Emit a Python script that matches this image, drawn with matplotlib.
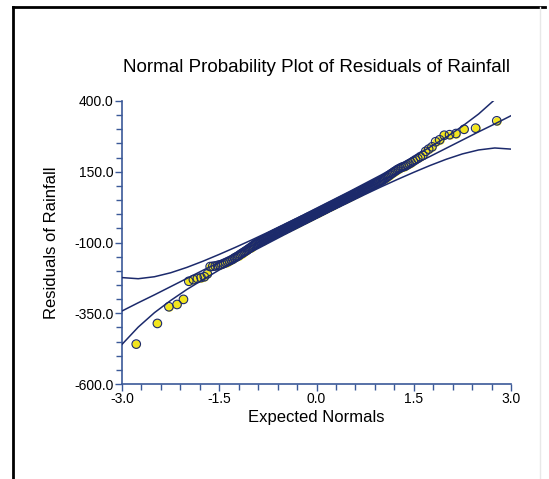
import matplotlib
matplotlib.use('Agg')
import matplotlib.pyplot as plt
from matplotlib.lines import Line2D
from matplotlib.ticker import MultipleLocator, FormatStrFormatter
from statistics import NormalDist

plt.rcParams['font.family'] = ['Liberation Sans', 'DejaVu Sans']
plt.rcParams['axes.unicode_minus'] = False

# sorted residuals of rainfall
residuals = [
    -459, -386, -327, -319, -301, -237, -231, -227, -224, -221,
    -211, -185, -184, -183, -181, -179, -177, -174, -171, -168,
    -165, -162, -159, -155, -152, -149, -146, -142, -139, -136,
    -133, -130, -127, -124, -121, -118, -115, -112, -109, -106,
    -104, -102, -100, -98, -96, -95, -93, -91, -89, -87,
    -86, -84, -82, -80, -78, -77, -75, -74, -72, -70,
    -69, -67, -66, -64, -63, -62, -60, -58, -57, -56,
    -55, -53, -52, -50, -49, -47, -46, -45, -43, -42,
    -41, -39, -38, -37, -35, -34, -33, -31, -30, -29,
    -28, -26, -25, -24, -22, -21, -20, -19, -18, -16,
    -15, -14, -12, -11, -10, -9, -8, -6, -5, -4,
    -3, -1, 0, 1, 2, 4, 5, 6, 7, 9,
    10, 11, 12, 14, 15, 16, 17, 19, 20, 21,
    23, 24, 25, 26, 28, 29, 30, 31, 33, 34,
    35, 37, 38, 39, 41, 42, 43, 45, 46, 47,
    49, 50, 51, 53, 54, 55, 57, 58, 60, 61,
    62, 64, 65, 67, 68, 70, 71, 73, 74, 76,
    77, 79, 80, 82, 84, 85, 87, 89, 90, 92,
    94, 95, 97, 99, 101, 102, 104, 106, 108, 110,
    112, 114, 116, 118, 120, 123, 126, 129, 132, 136,
    139, 143, 146, 150, 153, 157, 160, 163, 166, 168,
    170, 174, 178, 182, 187, 192, 197, 203, 208, 222,
    230, 238, 256, 263, 279, 281, 285, 300, 304, 330,
]

# reference line and confidence bands, read at these expected normals
band_x = [-3.0, -2.75, -2.5, -2.25, -2.0, -1.75, -1.5, -1.25, -1.0, -0.75, -0.5, -0.25,
          0.0, 0.25, 0.5, 0.75, 1.0, 1.25, 1.5, 1.75, 2.0, 2.25, 2.5, 2.75, 3.0]
center = [-342, -313, -285, -256, -227, -198, -170, -141, -112, -83, -55, -26,
          3, 32, 61, 89, 118, 147, 176, 204, 233, 262, 291, 319, 348]
upper = [-224, -228, -221, -207, -188, -166, -142, -117, -91, -64, -36, -8,
         21, 50, 79, 109, 139, 171, 203, 237, 272, 311, 354, 405, 466]
lower = [-460, -399, -348, -305, -266, -231, -197, -165, -133, -103, -73, -44,
         -15, 14, 42, 70, 97, 123, 148, 172, 194, 213, 227, 234, 230]

x_ticks = [-3.0, -1.5, 0.0, 1.5, 3.0]
y_ticks = [-600.0, -350.0, -100.0, 150.0, 400.0]

# expected normals from the ranks
n = len(residuals)
nd = NormalDist()
expected = [nd.inv_cdf((i + 1 - 0.375) / (n + 0.25)) for i in range(n)]

navy = '#1c2a6c'
axis_blue = '#3b5998'

fig = plt.figure(figsize=(5.49, 4.79), dpi=100)
ax = fig.add_axes([122 / 549, 95 / 479, 389 / 549, 283 / 479])

# faces first, then outlines on top so the dense middle reads dark
ax.scatter(expected, residuals, s=38, color='#f2e51e', linewidths=0, zorder=2)
ax.scatter(expected, residuals, s=38, facecolors='none', edgecolors=navy,
           linewidths=0.8, zorder=3)

ax.plot(band_x, center, color=navy, lw=1.1, zorder=4)
ax.plot(band_x, upper, color=navy, lw=1.1, zorder=4)
ax.plot(band_x, lower, color=navy, lw=1.1, zorder=4)

ax.set_xlim(-3.0, 3.0)
ax.set_ylim(-600.0, 400.0)
ax.set_xticks(x_ticks)
ax.set_yticks(y_ticks)
ax.xaxis.set_minor_locator(MultipleLocator(0.3))
ax.yaxis.set_minor_locator(MultipleLocator(50))
ax.xaxis.set_major_formatter(FormatStrFormatter('%.1f'))
ax.yaxis.set_major_formatter(FormatStrFormatter('%.1f'))

for side in ['top', 'right']:
    ax.spines[side].set_visible(False)
for side in ['left', 'bottom']:
    ax.spines[side].set_color(axis_blue)
    ax.spines[side].set_linewidth(1.2)
ax.tick_params(which='major', length=5, width=1, color=axis_blue, labelsize=10, pad=1)
ax.tick_params(which='minor', length=4, width=1, color=axis_blue)

ax.set_xlabel('Expected Normals', fontsize=12, va='center')
ax.set_ylabel('Residuals of Rainfall', fontsize=12, va='center')
ax.xaxis.set_label_coords(0.5, -0.117)
ax.yaxis.set_label_coords(-0.18, 0.5)
ax.text(0.5, 1.117, 'Normal Probability Plot of Residuals of Rainfall',
        transform=ax.transAxes, ha='center', va='center', fontsize=13.5)

# the frame round the whole chart
fig.add_artist(Line2D([13 / 549, 545 / 549], [1 - 7 / 479, 1 - 7 / 479],
                      color='black', lw=2, transform=fig.transFigure))
fig.add_artist(Line2D([13 / 549, 13 / 549], [1 - 7 / 479, 0],
                      color='black', lw=2, transform=fig.transFigure))
fig.add_artist(Line2D([540 / 549, 540 / 549], [1 - 7 / 479, 0],
                      color='#e8e8e8', lw=1, transform=fig.transFigure))

fig.savefig('out.png', dpi=100)
